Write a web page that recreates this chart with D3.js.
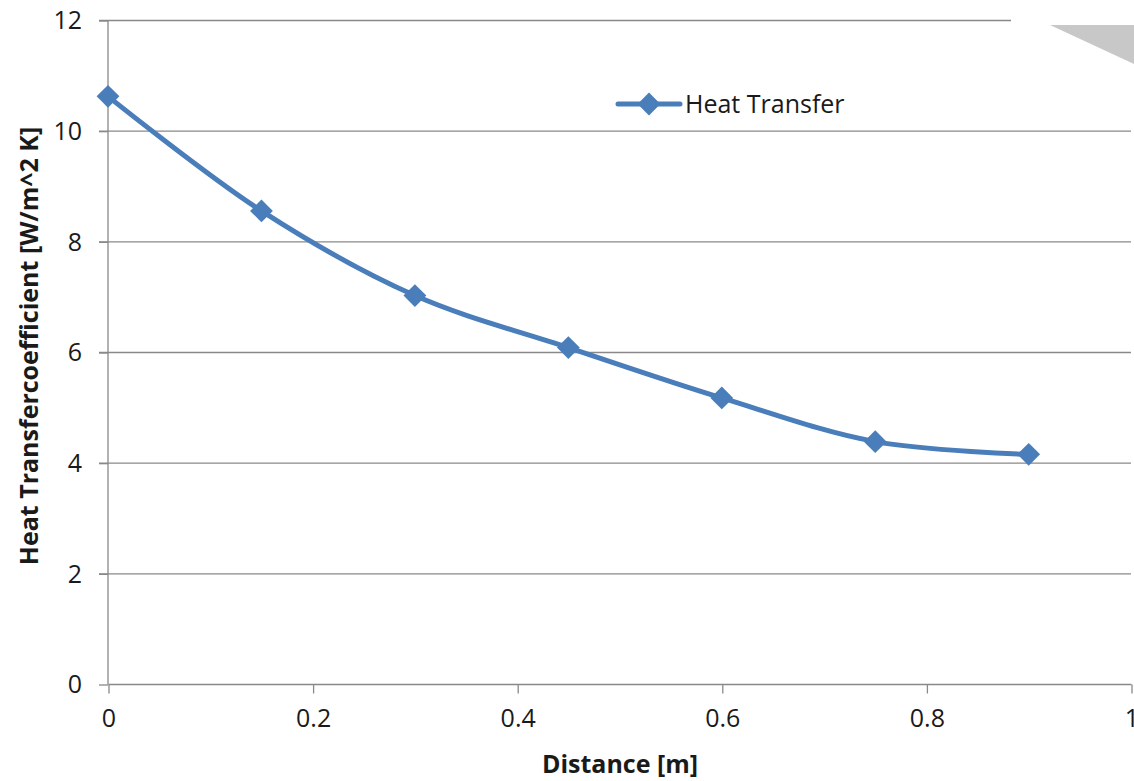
<!DOCTYPE html>
<html>
<head>
<meta charset="utf-8">
<script src="https://cdn.jsdelivr.net/npm/d3@7"></script>
<style>
  body { margin: 0; background: #fff; }
  text { font-family: "Open Sans", "Liberation Sans", sans-serif; fill: #1a1a1a; }
</style>
</head>
<body>
<div class="canvas"></div>
<script>
const distance = [0, 0.15, 0.3, 0.45, 0.6, 0.75, 0.9];
const heatTransfer = [10.62, 8.55, 7.02, 6.08, 5.17, 4.38, 4.15];
const xTicks = [0, 0.2, 0.4, 0.6, 0.8, 1];
const yTicks = [0, 2, 4, 6, 8, 10, 12];
const seriesName = 'Heat Transfer';

const dims = { width: 1134, height: 781 };
const plot = { left: 108, right: 1131, top: 20, bottom: 684 };
const blue = '#4a7ebb';
const grey = '#898989';

const svg = d3.select('.canvas')
    .append('svg')
    .attr('width', dims.width)
    .attr('height', dims.height);

const x = d3.scaleLinear().domain([0, 1]).range([plot.left, plot.right]);
const y = d3.scaleLinear().domain([0, 12]).range([plot.bottom, plot.top]);

// gridlines (top one stops where the page corner starts)
svg.append('g')
    .selectAll('line')
    .data(yTicks.filter(d => d > 0))
    .join('line')
    .attr('x1', plot.left - 9)
    .attr('x2', d => d === 12 ? 1011 : plot.right)
    .attr('y1', d => y(d) + 0.5)
    .attr('y2', d => y(d) + 0.5)
    .attr('stroke', grey)
    .attr('stroke-width', 1.3);

// y axis
const yAxis = svg.append('g')
    .attr('transform', `translate(${plot.left},0.5)`)
    .call(d3.axisLeft(y).tickValues(yTicks).tickSize(9).tickPadding(17).tickFormat(d3.format('d')));
yAxis.select('.domain').attr('stroke', grey).attr('stroke-width', 1.3).attr('d', `M0,${plot.top}V${plot.bottom}`);
yAxis.selectAll('.tick line').attr('stroke', grey).attr('stroke-width', 1.3);
yAxis.selectAll('text').attr('font-size', 25).attr('fill', '#1a1a1a').attr('dy', '0.33em');

// x axis
const xAxis = svg.append('g')
    .attr('transform', `translate(0.5,${plot.bottom + 0.5})`)
    .call(d3.axisBottom(x).tickValues(xTicks).tickSize(9).tickPadding(16).tickFormat(d => d === 0 || d === 1 ? d : d3.format('.1f')(d)));
xAxis.select('.domain').attr('stroke', grey).attr('stroke-width', 1.3).attr('d', `M${plot.left},0H${plot.right}`);
xAxis.selectAll('.tick line').attr('stroke', grey).attr('stroke-width', 1.3);
xAxis.selectAll('text').attr('font-size', 25).attr('fill', '#1a1a1a');

// axis titles
svg.append('text')
    .attr('x', 620)
    .attr('y', 773)
    .attr('text-anchor', 'middle')
    .attr('font-size', 25)
    .attr('font-weight', 'bold')
    .text('Distance [m]');

svg.append('text')
    .attr('transform', `translate(38,${(plot.top + plot.bottom) / 2 - 6}) rotate(-90)`)
    .attr('text-anchor', 'middle')
    .attr('font-size', 25)
    .attr('font-weight', 'bold')
    .text('Heat Transfercoefficient [W/m^2 K]');

// series
const data = distance.map((d, i) => ({ x: d, y: heatTransfer[i] }));

const line = d3.line()
    .x(d => x(d.x))
    .y(d => y(d.y))
    .curve(d3.curveCatmullRom.alpha(0.5));

svg.append('path')
    .datum(data)
    .attr('d', line)
    .attr('fill', 'none')
    .attr('stroke', blue)
    .attr('stroke-width', 5)
    .attr('stroke-linecap', 'round');

const diamond = d3.symbol().type(d3.symbolSquare).size(260);

svg.append('g')
    .selectAll('path')
    .data(data)
    .join('path')
    .attr('d', diamond)
    .attr('transform', d => `translate(${x(d.x)},${y(d.y)}) rotate(45)`)
    .attr('fill', blue);

// legend
const legend = svg.append('g').attr('transform', 'translate(618,104)');
legend.append('line')
    .attr('x1', 0).attr('x2', 62)
    .attr('stroke', blue).attr('stroke-width', 5).attr('stroke-linecap', 'round');
legend.append('path')
    .attr('d', diamond)
    .attr('transform', 'translate(31,0) rotate(45)')
    .attr('fill', blue);
legend.append('text')
    .attr('x', 67)
    .attr('dy', '0.35em')
    .attr('font-size', 25)
    .text(seriesName);

// page-curl corner at top right
svg.append('polygon')
    .attr('points', '1050,25 1134,25 1134,64')
    .attr('fill', '#c8c8c8');
</script>
</body>
</html>
